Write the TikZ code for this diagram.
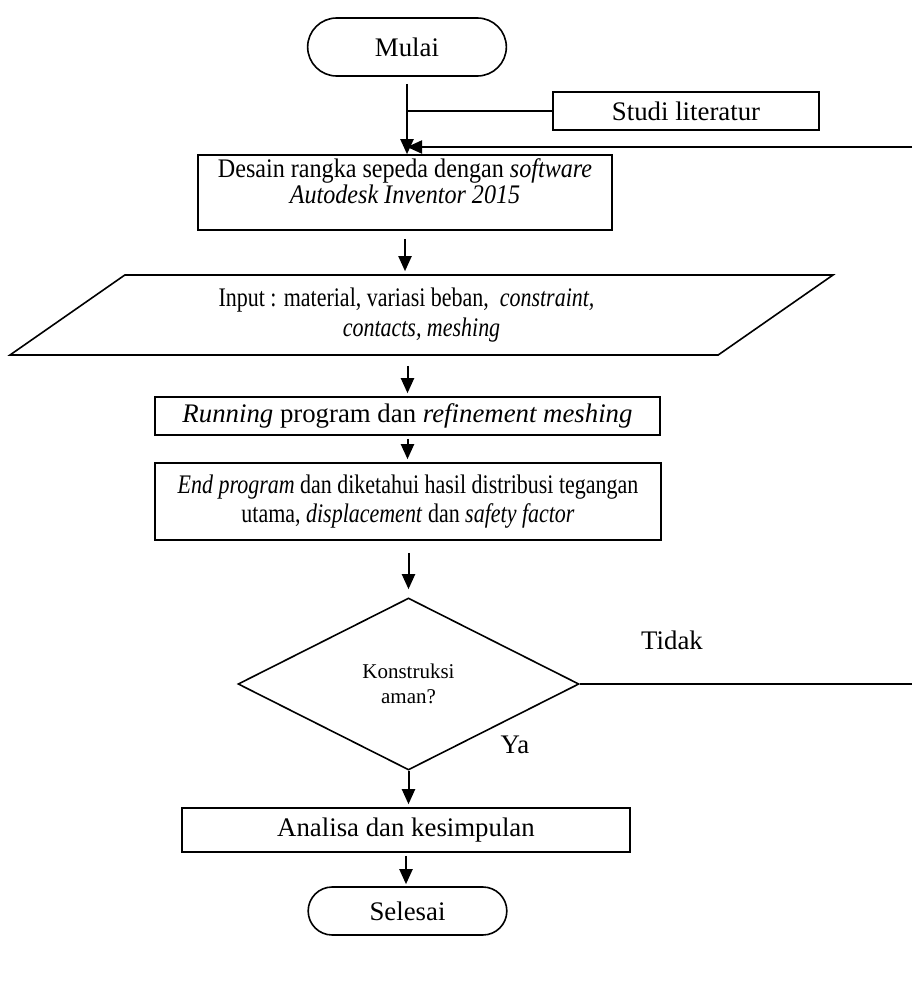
\documentclass[tikz,border=0pt]{standalone}
\usepackage{fontspec}
\usepackage{graphicx}
\setmainfont{Liberation Serif}
\newfontfamily\narrowA[FakeStretch=0.9]{Liberation Serif}
\newfontfamily\narrowB[FakeStretch=0.82]{Liberation Serif}
\usetikzlibrary{arrows.meta,shapes.geometric,shapes.misc}
\tikzstyle{block} = [draw, rectangle, line width=0.8pt, align=center,
    font=\fontsize{13.4}{15.5}\selectfont]
\tikzstyle{terminal} = [draw, rounded rectangle, line width=0.8pt,
    font=\fontsize{13.4}{15.5}\selectfont]
\tikzstyle{io} = [draw, trapezium, trapezium left angle=30.5, trapezium right angle=149.5,
    trapezium stretches body, line width=0.8pt, align=center,
    font=\fontsize{13.4}{15.5}\selectfont]
\tikzstyle{decision} = [draw, diamond, aspect=2, inner sep=0pt, line width=0.8pt,
    align=center, font=\fontsize{10.5}{12.5}\selectfont]
\tikzstyle{tag} = [font=\fontsize{13.4}{15.5}\selectfont]
\tikzstyle{flow} = [line width=1pt]

\begin{document}
\begin{tikzpicture}[x=0.5pt, y=-0.5pt, >={Triangle[length=7.5pt,width=6.5pt]}]
    \useasboundingbox (0,0) rectangle (920,990);
    \node [terminal, minimum width=106pt, minimum height=29pt] (mulai) at (407,47) {Mulai};
    \node [block, minimum width=133pt, minimum height=19pt] (studi) at (686,111) {Studi literatur};
    \node [block, minimum width=207pt, minimum height=37.5pt, inner ysep=0pt,
        font=\fontsize{13.4}{13}\narrowA] (desain) at (405,192.5)
        {Desain rangka sepeda dengan \textit{software}\\
         \textit{Autodesk Inventor 2015}\rule[-11pt]{0pt}{1pt}};
    \node [io, minimum width=411.5pt, minimum height=40pt,
        font=\fontsize{13.4}{15}\narrowB] (input) at (421.5,315)
        {\hspace*{-15pt}Input : material, variasi beban,\ \ \textit{constraint,}\\ \textit{contacts, meshing}};
    \node [block, minimum width=252.5pt, minimum height=16pt] (running) at (407.5,416)
        {\textit{Running} program dan \textit{refinement meshing}};
    \node [block, minimum width=253pt, minimum height=38.5pt,
        font=\fontsize{13.4}{14.5}\narrowB] (hasil) at (408,501.5)
        {\textit{End program} dan diketahui hasil distribusi tegangan\\ utama, \textit{displacement} dan \textit{safety factor}};
    \node [decision, minimum width=170.5pt, minimum height=86pt] (cek) at (408.5,684)
        {Konstruksi\\ aman?};
    \node [block, minimum width=224pt, minimum height=22pt] (analisa) at (406,830)
        {Analisa dan kesimpulan};
    \node [terminal, minimum width=106pt, minimum height=24pt] (selesai) at (407.5,911) {Selesai};
    \node [tag] (tidak) at (672,640) {Tidak};
    \node [tag] (ya) at (515,745) {Ya};
    \coordinate (balik) at (912,147);
    % alur utama
    \draw [->,flow,shorten <=3.5pt] (mulai.south) -- (mulai.south |- desain.north);
    \draw [flow] (studi.west) -- (studi.west -| mulai.south);
    \draw [->,flow] (balik) -- (balik -| mulai.south);
    \draw [->,flow,shorten <=4pt,shorten >=1.5pt] (desain.south) -- (desain.south |- input.north);
    \draw [->,flow,shorten <=5pt,shorten >=1.5pt] (input.south -| running.north) -- (running.north);
    \draw [->,flow,shorten <=1.5pt,shorten >=1.5pt] (running.south) -- (running.south |- hasil.north);
    \draw [->,flow,shorten <=6pt,shorten >=4pt] (hasil.south -| cek.north) -- (cek.north);
    \draw [flow] (cek.east) -- (cek.east -| balik);
    \draw [->,flow,shorten >=1.5pt] (cek.south) -- (cek.south |- analisa.north);
    \draw [->,flow,shorten <=1.5pt,shorten >=1pt] (analisa.south) -- (analisa.south |- selesai.north);
\end{tikzpicture}
\end{document}
